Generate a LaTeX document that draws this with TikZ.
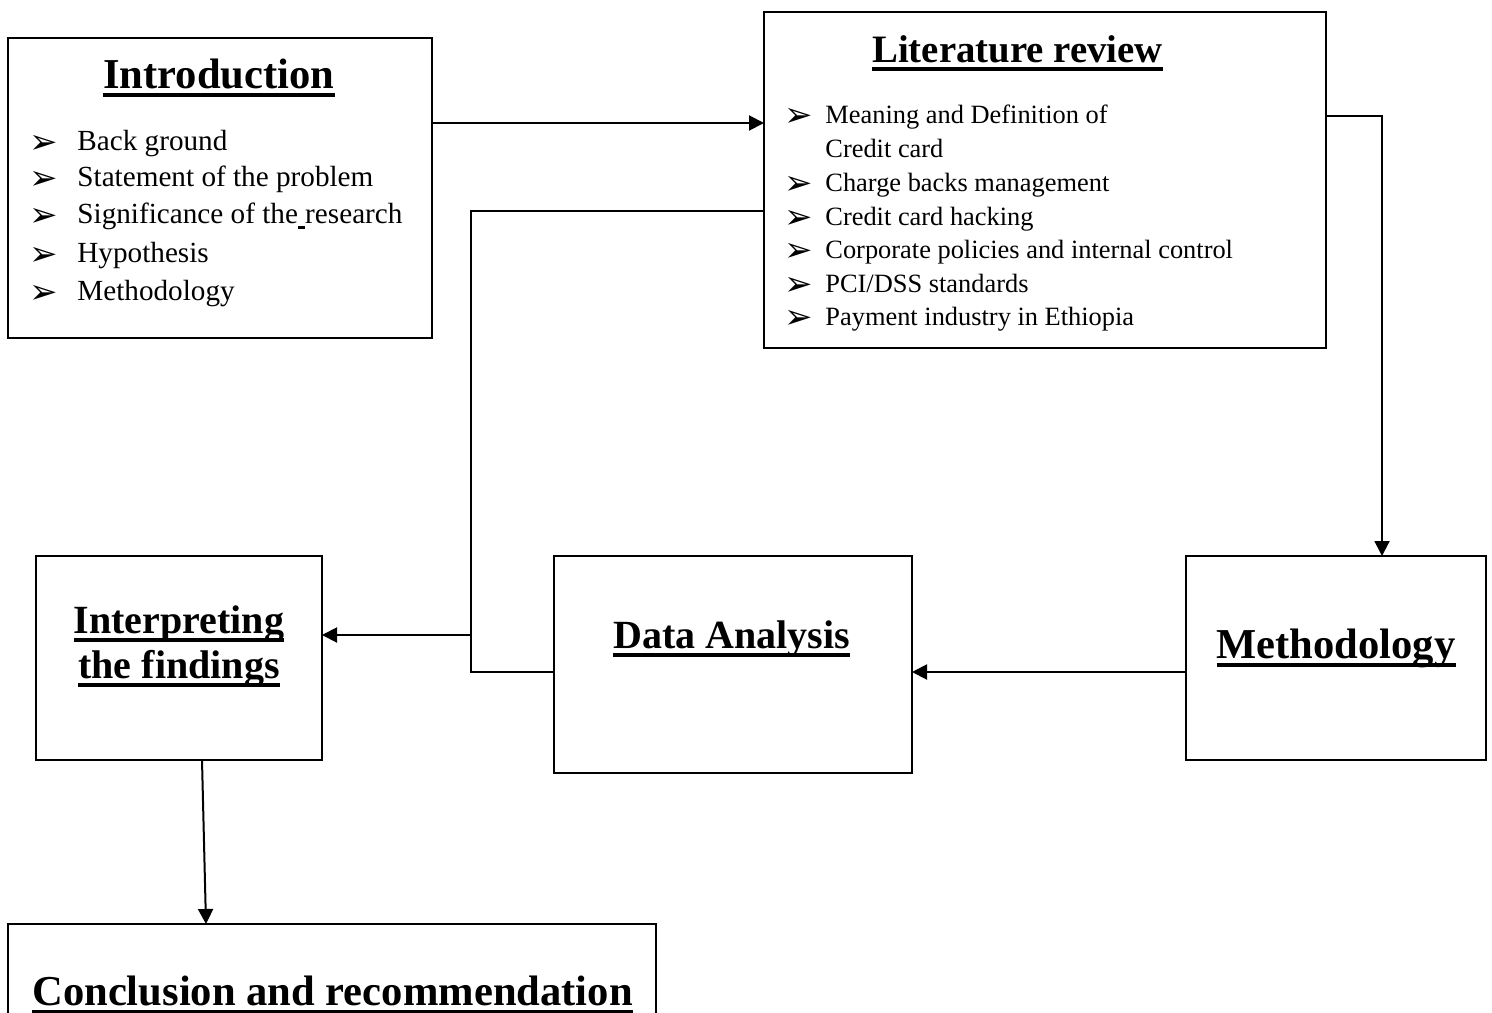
\documentclass[tikz,border=0pt]{standalone}
\usepackage{fontspec}
\setmainfont{Liberation Serif}
\newfontfamily\symf{DejaVu Sans}
\usetikzlibrary{arrows.meta,calc}
\newcommand\ttlul[1]{\setbox0=\hbox{#1}\rlap{\rule[-4.5pt]{\wd0}{2pt}}\box0}
\newcommand\bl[2]{\hbox to #1{\symf\fontsize{17}{17}\selectfont\raisebox{-1.6pt}{➢}\hfil}#2}
\tikzset{
  box/.style={draw, line width=1.1pt, inner sep=0pt, outer sep=0pt},
  ttl/.style={anchor=base, inner sep=0pt, font=\fontsize{21.3}{24}\selectfont\bfseries},
  ttls/.style={anchor=base, inner sep=0pt, font=\fontsize{20}{24}\selectfont\bfseries},
  introitem/.style={anchor=base west, inner sep=0pt, font=\fontsize{14.6}{17}\selectfont},
  lititem/.style={anchor=base west, inner sep=0pt, font=\fontsize{13.2}{16}\selectfont},
  conn/.style={line width=1pt},
  arr/.style={line width=1pt, -{Triangle[length=7.5pt,width=7.5pt]}}
}
\begin{document}
\begin{tikzpicture}[x=0.5pt,y=-0.5pt]
\clip (0,0) rectangle (1492,1012);
\fill[white] (0,0) rectangle (1492,1012);
% boxes
\node[box, minimum width=212pt, minimum height=150pt] (intro) at (220,188) {};
\node[box, minimum width=281pt, minimum height=168pt] (lit) at (1045,180) {};
\node[box, minimum width=143pt, minimum height=102pt] (interp) at (179,658) {};
\node[box, minimum width=179pt, minimum height=108.5pt] (data) at (733,664.5) {};
\node[box, minimum width=150pt, minimum height=102pt] (meth) at (1336,658) {};
\node[box, minimum width=324pt, minimum height=58pt] (concl) at (332,982) {};
% titles
\node[ttl] (introT) at (219,88) {\ttlul{Introduction}};
\node[ttl, font=\fontsize{19.4}{24}\selectfont\bfseries] (litT) at (1017.5,62) {\ttlul{Literature review}};
\node[ttls] (interpT1) at (179,633) {\ttlul{Interpreting}};
\node[ttls] (interpT2) at (179,678) {\ttlul{the findings}};
\node[ttls] (dataT) at (731.5,648) {\ttlul{Data Analysis}};
\node[ttl] (methT) at (1336,658) {\ttlul{Methodology}};
\node[ttl] (conclT) at (332.5,1005) {\ttlul{Conclusion and recommendation}};
% intro items
\node[introitem] (i1) at (29,150) {\bl{24pt}{Back ground}};
\node[introitem] (i2) at (29,186) {\bl{24pt}{Statement of the problem}};
\node[introitem] (i3) at (29,223.5) {\bl{24pt}{Significance of the\rlap{\rule[-2.5pt]{3.5pt}{1.5pt}} research}};
\node[introitem] (i4) at (29,262) {\bl{24pt}{Hypothesis}};
\node[introitem] (i5) at (29,300) {\bl{24pt}{Methodology}};
% literature items
\node[lititem] (l1) at (784,123) {\bl{20.5pt}{Meaning and Definition of}};
\node[lititem] (l1b) at (825,157) {Credit card};
\node[lititem] (l2) at (784,191.5) {\bl{20.5pt}{Charge backs management}};
\node[lititem] (l3) at (784,225) {\bl{20.5pt}{Credit card hacking}};
\node[lititem] (l4) at (784,258.5) {\bl{20.5pt}{Corporate policies and internal control}};
\node[lititem] (l5) at (784,292) {\bl{20.5pt}{PCI/DSS standards}};
\node[lititem] (l6) at (784,325) {\bl{20.5pt}{Payment industry in Ethiopia}};
% connectors
\draw[arr] (intro.east |- 0,123) -- (lit.west |- 0,123);
\draw[arr] (lit.east |- 0,116) -| (meth.north -| 1382,0);
\draw[arr] (meth.west |- 0,672) -- (data.east |- 0,672);
\coordinate (j) at (471,635);
\draw[conn] (data.west |- 0,672) -| (471,211) -- (lit.west |- 0,211);
\draw[arr] (j) -- (interp.east |- j);
\draw[arr] (interp.south -| 202,0) -- (concl.north -| 206,0);
\end{tikzpicture}
\end{document}
